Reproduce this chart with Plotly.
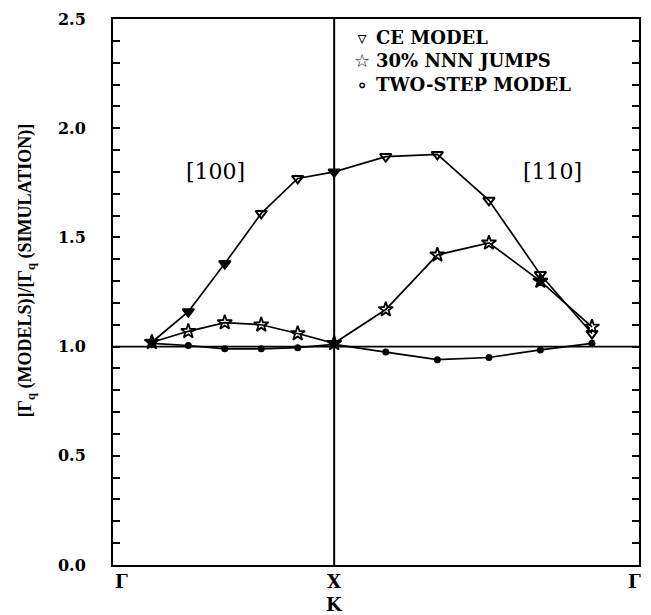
import plotly.graph_objects as go

# path coordinate along Gamma-X [100] then X(K)-Gamma [110]
path_x = [0.0, 0.2, 0.4, 0.6, 0.8, 1.0, 1.283, 1.566, 1.849, 2.131, 2.414]
ce_model = [1.02, 1.16, 1.38, 1.61, 1.77, 1.80, 1.87, 1.88, 1.67, 1.33, 1.06]
nnn_30 = [1.02, 1.07, 1.11, 1.10, 1.06, 1.015, 1.17, 1.42, 1.475, 1.30, 1.09]
two_step = [1.015, 1.005, 0.99, 0.99, 0.995, 1.01, 0.975, 0.94, 0.95, 0.985, 1.015]

series_names = ["CE MODEL", "30% NNN JUMPS", "TWO-STEP MODEL"]
legend_glyphs = ["▿", "☆", "∘"]
y_tick_vals = [0.0, 0.5, 1.0, 1.5, 2.0, 2.5]
y_tick_text = ["0.0", "0.5", "1.0", "1.5", "2.0", "2.5"]
x_point_labels = ["Γ", "X", "Γ"]
x_label_pos = [-0.165, 1.0, 2.645]
dir_labels = ["[100]", "[110]"]
dir_label_pos = [(0.35, 1.80), (2.2, 1.80)]

SERIF = "DejaVu Serif"

ce_sym = ["triangle-down", "triangle-down", "triangle-down", "triangle-down-open",
          "triangle-down-open", "triangle-down", "triangle-down-open", "triangle-down-open",
          "triangle-down-open", "triangle-down-open", "triangle-down-open"]
st_sym = ["star", "star-open", "star-open", "star-open", "star-open", "star",
          "star-open", "star-open", "star-open", "star", "star-open"]

fig = go.Figure()

line = dict(color="black", width=1.7)
fig.add_trace(go.Scatter(x=path_x, y=ce_model, mode="lines+markers", line=line,
                         name=series_names[0],
                         marker=dict(symbol=ce_sym, size=10, color="black",
                                     line=dict(color="black", width=2)),
                         showlegend=False))
fig.add_trace(go.Scatter(x=path_x, y=nnn_30, mode="lines+markers", line=line,
                         name=series_names[1],
                         marker=dict(symbol=st_sym, size=11, color="black",
                                     line=dict(color="black", width=1.8)),
                         showlegend=False))
fig.add_trace(go.Scatter(x=path_x, y=two_step, mode="lines+markers", line=line,
                         name=series_names[2],
                         marker=dict(symbol="circle", size=7, color="black"),
                         showlegend=False))

fig.add_shape(type="line", xref="paper", yref="y", x0=0, x1=1, y0=1.0, y1=1.0,
              line=dict(color="black", width=1.8))
fig.add_shape(type="line", xref="x", yref="paper", x0=1.0, x1=1.0, y0=0, y1=1,
              line=dict(color="black", width=2))

# legend built from text (one block for glyphs, one for labels)
PLOT_L, PLOT_W, PLOT_B, PLOT_H = 113, 528, 565, 546
leg_center_y = (PLOT_B - 61) / PLOT_H
fig.add_annotation(x=(363 - PLOT_L) / PLOT_W, y=leg_center_y, xref="paper", yref="paper",
                   text="<br>".join(legend_glyphs), showarrow=False,
                   xanchor="center", yanchor="middle", align="center",
                   font=dict(family="DejaVu Sans", size=18, color="black", weight="bold"))
fig.add_annotation(x=(375 - PLOT_L) / PLOT_W, y=leg_center_y, xref="paper", yref="paper",
                   text="<br>".join(series_names), showarrow=False,
                   xanchor="left", yanchor="middle", align="left",
                   font=dict(family=SERIF, size=18, color="black", weight="bold"))

for lab, xp in zip(x_point_labels, x_label_pos):
    fig.add_annotation(x=xp, y=0, xref="x", yref="paper", text=lab, showarrow=False,
                       yanchor="top", yshift=-4,
                       font=dict(family=SERIF, size=18, color="black", weight="bold"))
fig.add_annotation(x=x_label_pos[1], y=0, xref="x", yref="paper", text="K", showarrow=False,
                   yanchor="top", yshift=-27,
                   font=dict(family=SERIF, size=18, color="black", weight="bold"))

for lab, (xp, yp) in zip(dir_labels, dir_label_pos):
    fig.add_annotation(x=xp, y=yp, xref="x", yref="y", text=lab, showarrow=False,
                       font=dict(family=SERIF, size=22, color="black"))

fig.add_annotation(x=-0.165, y=0.54, xref="paper", yref="paper", textangle=-90,
                   xanchor="center", yanchor="middle",
                   text="[Γ<sub>q</sub> (MODELS)]/[Γ<sub>q</sub> (SIMULATION)]",
                   showarrow=False,
                   font=dict(family="Liberation Serif", size=18, color="black", weight="bold"))

fig.update_xaxes(range=[-0.213, 2.672], showgrid=False, zeroline=False,
                 showline=True, linewidth=2, linecolor="black", mirror=True,
                 showticklabels=False, ticks="")
fig.update_yaxes(range=[0, 2.5], showgrid=False, zeroline=False,
                 showline=True, linewidth=2, linecolor="black", mirror="ticks",
                 tickvals=y_tick_vals, ticktext=y_tick_text, ticks="inside",
                 ticklen=7, tickwidth=1.5, tickcolor="black",
                 minor=dict(dtick=0.1, ticks="inside", ticklen=7, tickwidth=1.5,
                            tickcolor="black"),
                 ticklabelstandoff=22,
                 tickfont=dict(family=SERIF, size=16, color="black", weight="bold"))

fig.update_layout(
    width=651, height=615,
    margin=dict(l=PLOT_L, r=10, t=19, b=50),
    plot_bgcolor="white", paper_bgcolor="white",
    showlegend=False,
)

fig.write_html("out.html")
